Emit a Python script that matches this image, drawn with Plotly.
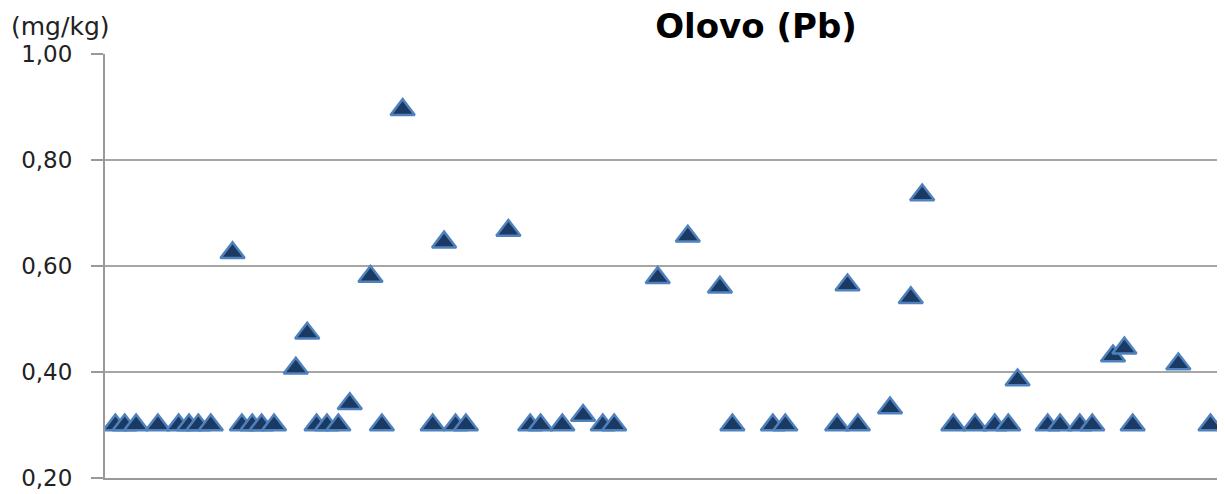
import plotly.graph_objects as go

# sample position (arbitrary units along the horizontal axis) and lead content (mg/kg)
sample_pos = [1.0, 1.9, 3.0, 5.1, 7.1, 8.1, 9.0, 10.2, 12.3, 13.2, 14.2, 15.1, 16.3,
              18.4, 19.5, 20.4, 21.4, 22.5, 23.6, 25.6, 26.7, 28.7, 31.6, 32.7, 33.8,
              34.8, 38.9, 41.0, 42.0, 44.1, 46.1, 48.0, 49.1, 53.3, 56.2, 59.3, 60.5,
              64.4, 65.6, 70.6, 71.6, 72.6, 75.7, 77.7, 78.8, 81.8, 83.9, 85.8, 87.1,
              88.0, 90.9, 92.1, 94.0, 95.2, 97.2, 98.3, 99.1, 103.5, 106.6]
pb_values = [0.30, 0.30, 0.30, 0.30, 0.30, 0.30, 0.30, 0.30, 0.625, 0.30, 0.30, 0.30, 0.30,
             0.407, 0.473, 0.30, 0.30, 0.30, 0.34, 0.58, 0.30, 0.895, 0.30, 0.645, 0.30,
             0.30, 0.667, 0.30, 0.30, 0.30, 0.318, 0.30, 0.30, 0.578, 0.656, 0.56, 0.30,
             0.30, 0.30, 0.30, 0.564, 0.30, 0.332, 0.54, 0.734, 0.30, 0.30, 0.30, 0.30,
             0.385, 0.30, 0.30, 0.30, 0.30, 0.43, 0.445, 0.30, 0.415, 0.30]

y_ticks = [0.20, 0.40, 0.60, 0.80, 1.00]
title_text = "Olovo (Pb)"
unit_text = "(mg/kg)"

fig = go.Figure()
fig.add_trace(go.Scatter(
    x=sample_pos, y=pb_values, mode="markers",
    marker=dict(symbol="triangle-up", size=21, color="#1B3A63",
                line=dict(color="#4F81BD", width=2.5)),
    showlegend=False, hoverinfo="y"))

# the page body adds an 8px offset, so the figure is sized to fill the rest of the window
fig.update_layout(
    width=1217, height=486,
    margin=dict(l=97, r=0, t=46, b=16),
    paper_bgcolor="white", plot_bgcolor="white",
    separators=",.",
    title=dict(text="<b>" + title_text + "</b>", x=0.6146, xanchor="center",
               y=0.962, yanchor="middle",
               font=dict(family="DejaVu Sans", size=34, color="#000000")),
    annotations=[dict(text=unit_text, xref="paper", yref="paper", x=-0.086, y=1.026,
                      xanchor="left", yanchor="bottom", showarrow=False,
                      font=dict(family="DejaVu Sans", size=25, color="#222222"))],
)
fig.update_xaxes(range=[0, 108], showgrid=False, zeroline=False, showticklabels=False,
                 showline=True, linecolor="#999999", linewidth=2, ticks="",
                 automargin=False)
fig.update_yaxes(range=[0.2, 1.0], tickvals=y_ticks, tickformat=".2f",
                 showgrid=True, gridcolor="#a6a6a6", gridwidth=1.5, zeroline=False,
                 showline=True, linecolor="#999999", linewidth=2,
                 ticks="outside", ticklen=12, tickcolor="#999999", tickwidth=1.5,
                 ticklabelstandoff=14, automargin=False,
                 tickfont=dict(family="DejaVu Sans", size=23, color="#222222"))

fig.write_html("out.html")
